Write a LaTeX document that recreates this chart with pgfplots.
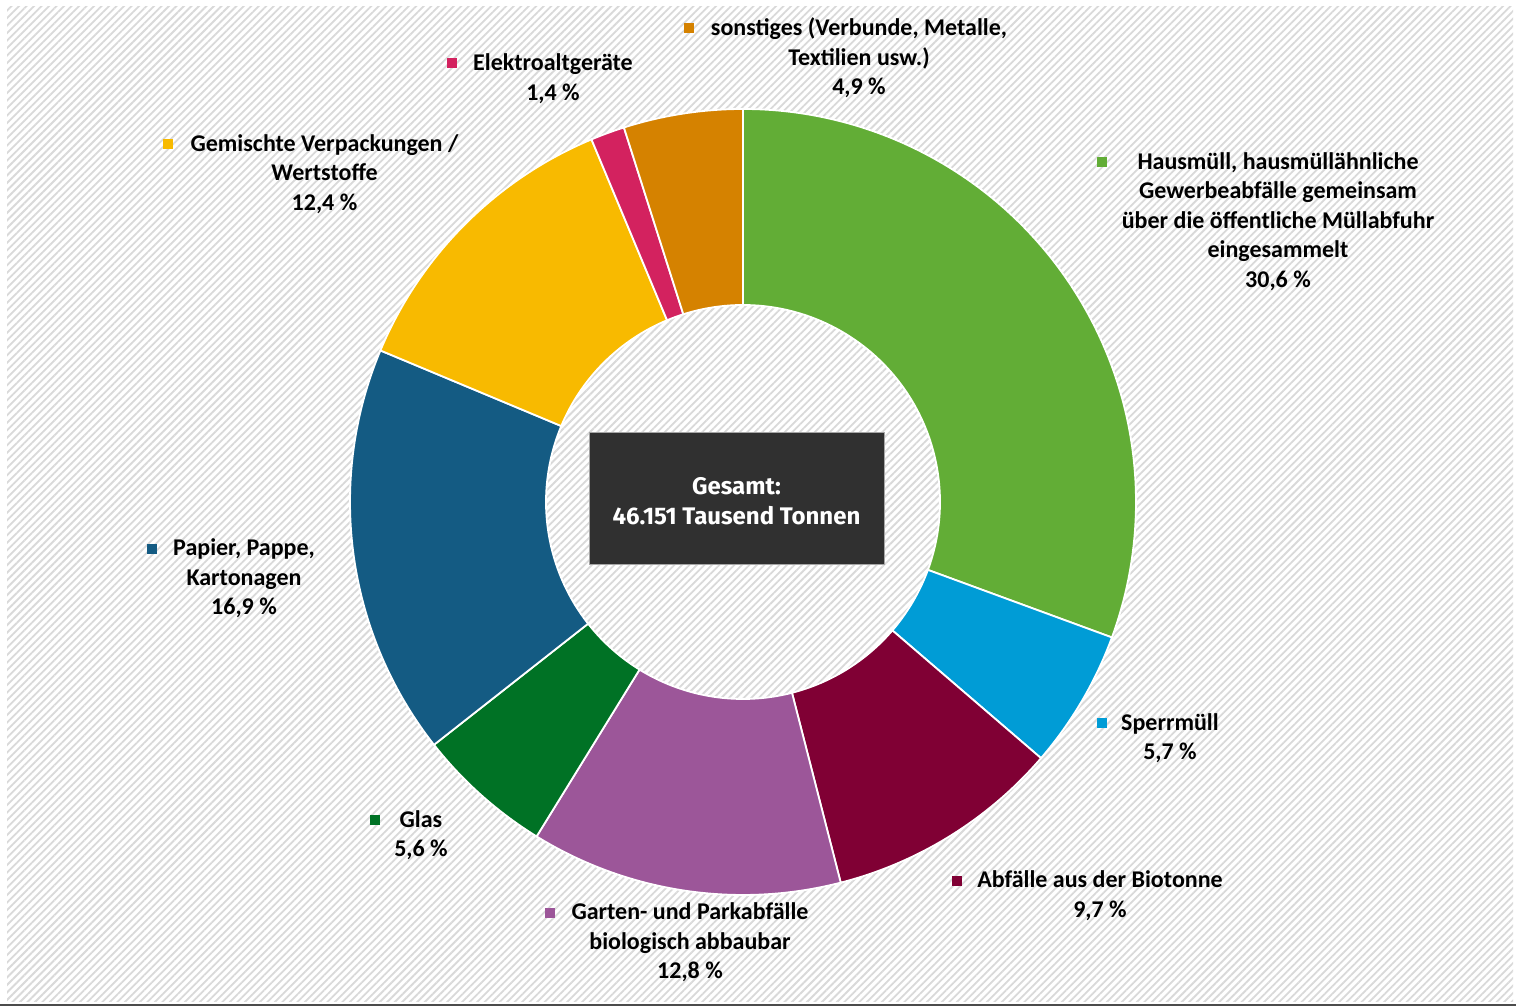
\documentclass[border=0pt]{standalone}
\usepackage{pgfplots}
\pgfplotsset{compat=1.18}
\usepackage{pgfplotstable}
\usepackage{fontspec}
\setmainfont{Carlito}
\newfontfamily\boxfont{Fira Sans}
\usetikzlibrary{patterns.meta}

\definecolor{cHaus}{HTML}{62AD36}
\definecolor{cSperr}{HTML}{009CD6}
\definecolor{cBio}{HTML}{800034}
\definecolor{cGarten}{HTML}{9C5699}
\definecolor{cGlas}{HTML}{007225}
\definecolor{cPapier}{HTML}{145B83}
\definecolor{cGemischt}{HTML}{F8BA00}
\definecolor{cElektro}{HTML}{D3225F}
\definecolor{cSonst}{HTML}{D58200}
\definecolor{cBox}{HTML}{303030}

% Anteile in Prozent, im Uhrzeigersinn ab 12 Uhr
\pgfplotstableread{
anteil farbe
30.6 cHaus
5.7  cSperr
9.7  cBio
12.8 cGarten
5.6  cGlas
16.9 cPapier
12.4 cGemischt
1.4  cElektro
4.9  cSonst
}\abfall

\tikzset{
  lbl/.style={font=\fontsize{12}{14.75}\selectfont\bfseries, align=center, text=black, inner sep=0pt},
  mk/.style={minimum size=5pt, inner sep=0pt},
}

\begin{document}
\begin{tikzpicture}
\begin{axis}[
  width=758pt, height=503.5pt, scale only axis,
  xmin=0, xmax=1516, ymin=0, ymax=1007,
  hide axis, clip=false,
]
% Hintergrund
\fill[white] (axis cs:0,0) rectangle (axis cs:1516,1007);
\fill[pattern={Lines[angle=45,distance=2.65pt,line width=0.9pt]}, pattern color=gray!30]
  (axis cs:7,5) rectangle (axis cs:1513,1000);
\fill[black!70] (axis cs:0,1) rectangle (axis cs:1516,3);

% Ringsegmente
\def\cx{743}\def\cy{505}
\def\angstart{90}
\pgfplotsforeachungrouped \i in {0,...,8}{%
  \pgfplotstablegetelem{\i}{anteil}\of\abfall \let\val\pgfplotsretval
  \pgfplotstablegetelem{\i}{farbe}\of\abfall \let\col\pgfplotsretval
  \pgfmathsetmacro\angend{\angstart-3.6*\val}
  \pgfmathsetmacro\xa{\cx+393*cos(\angstart)}
  \pgfmathsetmacro\ya{\cy+393*sin(\angstart)}
  \pgfmathsetmacro\xb{\cx+197*cos(\angend)}
  \pgfmathsetmacro\yb{\cy+197*sin(\angend)}
  \edef\doit{\noexpand\filldraw[fill=\col, draw=white, line width=0.9pt]
    (axis cs:\xa,\ya) arc[start angle=\angstart, end angle=\angend, radius=196.5pt]
    -- (axis cs:\xb,\yb) arc[start angle=\angend, end angle=\angstart, radius=98.5pt] -- cycle;}
  \doit
  \global\let\angstart\angend
}

% Summe in der Mitte
\fill[cBox, draw=gray!70, line width=0.4pt] (axis cs:589,443) rectangle (axis cs:884,575);
\node[font=\boxfont\fontsize{12}{15}\selectfont\bfseries, text=white, align=center]
  at (axis cs:736.5,506) {Gesamt:\\46.151 Tausend Tonnen};

% Beschriftungen
\node[lbl] at (axis cs:859,949) {sonstiges (Verbunde, Metalle,\\Textilien usw.)\\4,9~\%};
\node[mk, fill=cSonst] at (axis cs:689,979) {};
\node[lbl] at (axis cs:553,928.5) {Elektroaltgeräte\\1,4~\%};
\node[mk, fill=cElektro] at (axis cs:452,944) {};
\node[lbl] at (axis cs:324.5,833) {Gemischte Verpackungen /\\Wertstoffe\\12,4~\%};
\node[mk, fill=cGemischt] at (axis cs:168,863) {};
\node[lbl] at (axis cs:1278,785.5) {Hausmüll, hausmüllähnliche\\Gewerbeabfälle gemeinsam\\über die öffentliche Müllabfuhr\\eingesammelt\\30,6~\%};
\node[mk, fill=cHaus] at (axis cs:1102,845) {};
\node[lbl] at (axis cs:244,428.5) {Papier, Pappe,\\Kartonagen\\16,9~\%};
\node[mk, fill=cPapier] at (axis cs:152,458) {};
\node[lbl] at (axis cs:1170,269) {Sperrmüll\\5,7~\%};
\node[mk, fill=cSperr] at (axis cs:1102,284) {};
\node[lbl] at (axis cs:421,172) {Glas\\5,6~\%};
\node[mk, fill=cGlas] at (axis cs:375,187) {};
\node[lbl] at (axis cs:690,64.5) {Garten- und Parkabfälle\\biologisch abbaubar\\12,8~\%};
\node[mk, fill=cGarten] at (axis cs:550,94) {};
\node[lbl] at (axis cs:1100,111.5) {Abfälle aus der Biotonne\\9,7~\%};
\node[mk, fill=cBio] at (axis cs:957,126) {};
\end{axis}
\end{tikzpicture}
\end{document}
